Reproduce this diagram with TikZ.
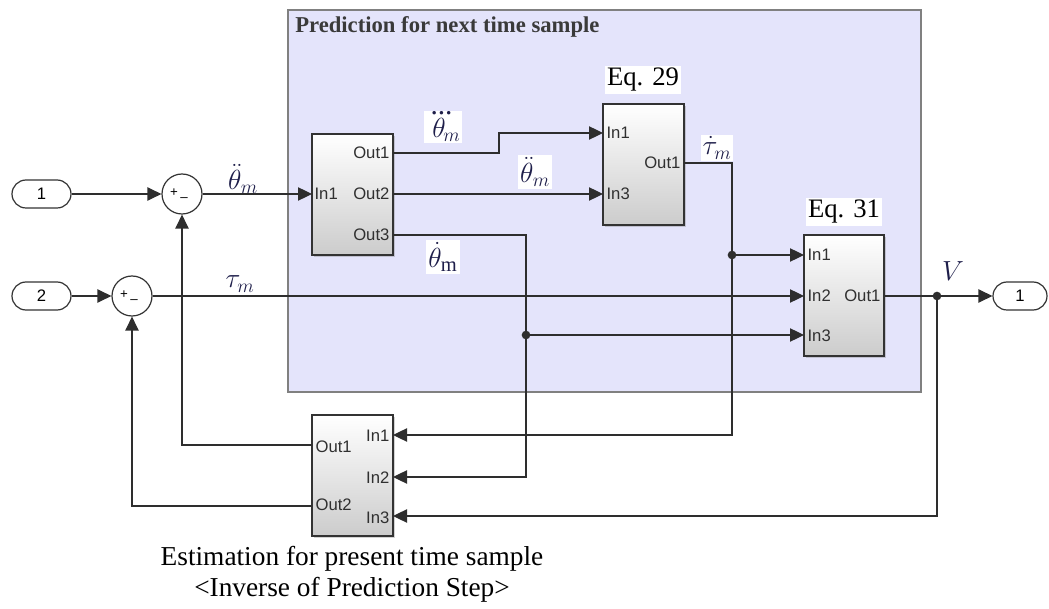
\documentclass[tikz,border=0pt]{standalone}
\usepackage{fontspec}
\usepackage{amsmath}
\setmainfont{Liberation Serif}
\newfontfamily\arialf{Liberation Sans}
\usetikzlibrary{arrows.meta,shadows}
\definecolor{boxfill}{HTML}{E4E4FB}
\definecolor{boxline}{HTML}{808080}
\definecolor{wirec}{HTML}{2E2E2E}
\definecolor{mathc}{HTML}{1E1E4A}
\definecolor{portc}{HTML}{303030}
\definecolor{titlec}{HTML}{3A3A3A}
\begin{document}
\begin{tikzpicture}[x=0.75pt,y=-0.75pt,
  blk/.style={draw=black!80, line width=0.9pt, top color=white, bottom color=black!20,
    drop shadow={shadow xshift=1.5pt, shadow yshift=-1.5pt, opacity=0.35, fill=black!50},
    inner sep=0pt, minimum width=60.75pt, minimum height=90.75pt},
  pill/.style={draw=black!80, line width=0.9pt, fill=white, rounded corners=10.5pt,
    minimum width=44.25pt, minimum height=21pt, inner sep=0pt, font=\arialf\fontsize{12.5}{14}\selectfont},
  sumc/.style={circle, draw=black!80, line width=0.9pt, fill=white, minimum size=30pt, inner sep=0pt},
  sgn/.style={font=\arialf\fontsize{10}{11}\selectfont, inner sep=0pt},
  port/.style={font=\arialf\fontsize{12.5}{14}\selectfont, text=portc, inner sep=1pt},
  wire/.style={draw=wirec, line width=0.9pt},
  arr/.style={wire, -{Triangle[length=10.5pt,width=10pt]}},
  jdot/.style={circle, fill=wirec, minimum size=6.5pt, inner sep=0pt},
  mlab/.style={text=mathc, fill=white, inner sep=1.5pt, font=\fontsize{22}{24}\selectfont},
  mlabb/.style={text=mathc, inner sep=1pt, font=\fontsize{22}{24}\selectfont},
  eqlab/.style={fill=white, inner sep=1.5pt, font=\fontsize{20}{22}\selectfont},
  caplab/.style={inner sep=0pt, font=\fontsize{20.5}{23}\selectfont}
]
\useasboundingbox (0,0) rectangle (1049,609);

% prediction subsystem area
\node[draw=boxline, fill=boxfill, line width=0.8pt, minimum width=474.75pt, minimum height=286.5pt, inner sep=0pt] (pred) at (604.5,201) {};
\node[anchor=west, inner sep=0pt, text=titlec, font=\bfseries\fontsize{17}{19}\selectfont] (title) at (295,27) {Prediction for next time sample};

% ports
\node[pill] (in1) at (41.5,194) {1};
\node[pill] (in2) at (41.5,296) {2};
\node[pill, minimum width=40.5pt] (out1) at (1020,296) {1};

% sums
\node[sumc] (s1) at (182,194) {};
\node[sgn] (s1p) at (174,193) {+};
\node[sgn] (s1m) at (184,200) {–};
\node[sumc] (s2) at (132,296) {};
\node[sgn] (s2p) at (124,295) {+};
\node[sgn] (s2m) at (134,302) {–};

% blocks
\node[blk] (A) at (352.5,194.5) {};
\node[blk] (E29) at (643.5,164.5) {};
\node[blk, minimum width=60pt] (E31) at (844,295.5) {};
\node[blk] (Est) at (352.5,475.5) {};

% block port labels
\node[port, anchor=east] (lAo1) at (391,153) {Out1};
\node[port, anchor=east] (lAo2) at (391,194) {Out2};
\node[port, anchor=west] (lAi1) at (313,194) {In1};
\node[port, anchor=east] (lAo3) at (391,235) {Out3};

\node[port, anchor=west] (l29i1) at (605,133) {In1};
\node[port, anchor=west] (l29i3) at (605,194) {In3};
\node[port, anchor=east] (l29o1) at (682,163) {Out1};

\node[port, anchor=west] (l31i1) at (806,255) {In1};
\node[port, anchor=west] (l31i2) at (806,296) {In2};
\node[port, anchor=west] (l31i3) at (806,336) {In3};
\node[port, anchor=east] (l31o1) at (882,296) {Out1};

\node[port, anchor=west] (lEo1) at (314,447) {Out1};
\node[port, anchor=east] (lEi1) at (391,436) {In1};
\node[port, anchor=east] (lEi2) at (391,478) {In2};
\node[port, anchor=west] (lEo2) at (314,505) {Out2};
\node[port, anchor=east] (lEi3) at (391,518) {In3};

% block titles
\node[eqlab] (t29) at (643,80) {Eq. 29};
\node[eqlab] (t31) at (844,212) {Eq. 31};
\node[caplab] (cap1) at (352,559) {Estimation for present time sample};
\node[caplab] (cap2) at (352,590) {<Inverse of Prediction Step>};

% port coordinates
\coordinate (AIn1) at (312,194);
\coordinate (AOut1) at (393,153);
\coordinate (AOut2) at (393,194);
\coordinate (AOut3) at (393,235);
\coordinate (E29In1) at (603,133);
\coordinate (E29In3) at (603,194);
\coordinate (E29Out1) at (684,163);
\coordinate (E31In1) at (804,255);
\coordinate (E31In2) at (804,296);
\coordinate (E31In3) at (804,335);
\coordinate (EstIn1) at (393,435);
\coordinate (EstIn2) at (393,477);
\coordinate (EstIn3) at (393,516);
\coordinate (EstOut1) at (312,445);
\coordinate (EstOut2) at (312,506);
\coordinate (j1) at (526,335);
\coordinate (j2) at (732,255);
\coordinate (jV) at (937,296);
\coordinate (bend1) at (499,153);

% wires
\draw[arr] (in1) -- (s1);
\draw[arr] (s1) -- (AIn1);
\draw[arr] (in2) -- (s2);
\draw[arr] (s2) -- (E31In2);
\draw[arr] (AOut1) -- (bend1) |- (E29In1);
\draw[arr] (AOut2) -- (E29In3);
\draw[arr] (AOut3) -| (j1) |- (EstIn2);
\draw[arr] (j1) -- (E31In3);
\draw[arr] (E29Out1) -| (j2) |- (EstIn1);
\draw[arr] (j2) -- (E31In1);
\draw[wire] (E31.east |- jV) -- (jV);
\draw[arr] (jV) -- (out1);
\draw[arr] (jV) |- (EstIn3);
\draw[arr] (EstOut1) -| (s1);
\draw[arr] (EstOut2) -| (s2);
\node[jdot] (d1) at (j1) {};
\node[jdot] (d2) at (j2) {};
\node[jdot] (d3) at (jV) {};

% signal labels
\node[mlabb] (L1) at (243,179) {$\ddot{\theta}_m$};
\node[mlab] (L2) at (443,127) {${\dddot{\theta}}\mkern-6mu_m$};
\node[mlab] (L3) at (535,172) {$\ddot{\theta}_m$};
\node[mlab] (L4) at (443,257) {$\dot{\theta}_{\mathrm{m}}$};
\node[mlab] (L5) at (717,148) {$\dot{\tau}_m$};
\node[mlabb] (L6) at (240,284) {$\tau_m$};
\node[mlabb] (L7) at (953,271) {$V$};
\end{tikzpicture}
\end{document}
